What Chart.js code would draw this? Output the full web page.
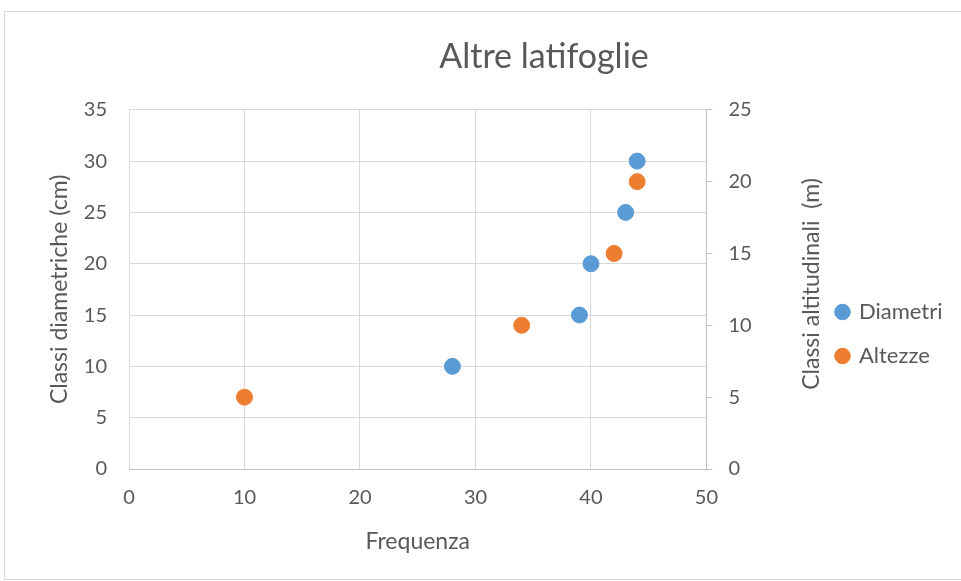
<!DOCTYPE html>
<html lang="it">
<head>
<meta charset="UTF-8">
<title>Altre latifoglie</title>
<script src="https://cdn.jsdelivr.net/npm/chart.js"></script>
<style>
  html, body { margin: 0; padding: 0; background: #fff; }
  #wrap { position: relative; width: 961px; height: 581px; overflow: hidden; }
  #frame { position: absolute; left: 4px; top: 11px; width: 1000px; height: 567px; border: 1px solid #d9d9d9; }
  canvas { position: absolute; left: 0; top: 0; }
</style>
</head>
<body>
<div id="wrap">
  <div id="frame"></div>
  <canvas id="chart" width="961" height="581"></canvas>
</div>
<script>
// Dati
const diametriFreq = [28, 39, 40, 43, 44];
const diametriClassi = [10, 15, 20, 25, 30];
const altezzeFreq = [10, 34, 42, 44];
const altezzeClassi = [5, 10, 15, 20];

const titolo = 'Altre latifoglie';
const xTitolo = 'Frequenza';
const yTitolo = 'Classi diametriche (cm)';
const y2Titolo = 'Classi altitudinali  (m)';

const grey = '#595959';
const gridCol = '#d9d9d9';
const axisCol = '#bfbfbf';
const font = 'Lato, "Open Sans", sans-serif';

const toPoints = (xs, ys) => xs.map((x, i) => ({ x: x, y: ys[i] }));

// titolo e legenda messi dove li mette Excel
const placeBoxes = {
  id: 'placeBoxes',
  afterLayout(chart) {
    const t = chart.titleBlock;
    const w = t.right - t.left;
    t.left = 544 - w / 2;
    t.right = 544 + w / 2;
    const lg = chart.legend;
    const lw = lg.right - lg.left, lh = lg.bottom - lg.top;
    lg.left = 815; lg.right = 815 + lw;
    lg.top = 279; lg.bottom = 279 + lh;
  },
  // titolo dell'asse destro letto dal basso verso l'alto
  afterDraw(chart) {
    const ctx = chart.ctx;
    ctx.save();
    ctx.translate(812, 284);
    ctx.rotate(-Math.PI / 2);
    ctx.fillStyle = grey;
    ctx.font = '23px ' + font;
    ctx.textAlign = 'center';
    ctx.textBaseline = 'middle';
    ctx.fillText(y2Titolo, 0, 0);
    ctx.restore();
  }
};

new Chart(document.getElementById('chart'), {
  type: 'scatter',
  data: {
    datasets: [
      {
        label: 'Diametri',
        data: toPoints(diametriFreq, diametriClassi),
        backgroundColor: '#5b9bd5',
        borderColor: '#5b9bd5',
        pointRadius: 8,
        pointHoverRadius: 8,
        yAxisID: 'y'
      },
      {
        label: 'Altezze',
        data: toPoints(altezzeFreq, altezzeClassi),
        backgroundColor: '#ed7d31',
        borderColor: '#ed7d31',
        pointRadius: 8,
        pointHoverRadius: 8,
        yAxisID: 'y2'
      }
    ]
  },
  options: {
    responsive: false,
    animation: false,
    layout: { padding: { left: 0, top: 0, bottom: 0, right: 8 } },
    plugins: {
      tooltip: { enabled: false },
      title: {
        display: true,
        text: titolo,
        color: grey,
        font: { family: font, size: 34, weight: 'normal' },
        padding: { top: 37, bottom: 32 }
      },
      legend: {
        position: 'right',
        align: 'start',
        maxWidth: 146,
        labels: {
          usePointStyle: true,
          pointStyle: 'circle',
          boxWidth: 11,
          boxHeight: 11,
          padding: 22,
          color: grey,
          font: { family: font, size: 22 }
        }
      }
    },
    scales: {
      x: {
        type: 'linear',
        min: 0,
        max: 50,
        ticks: { stepSize: 10, color: grey, padding: 17, font: { family: font, size: 20 } },
        grid: { color: gridCol, drawTicks: false },
        border: { color: axisCol },
        title: { display: true, text: xTitolo, color: grey, font: { family: font, size: 23 }, padding: { top: 0, bottom: 26 } },
        afterFit(s) { s.height = 581 - 469; }
      },
      y: {
        position: 'left',
        min: 0,
        max: 35,
        ticks: { stepSize: 5, color: grey, padding: 22, font: { family: font, size: 20 } },
        grid: { color: gridCol, drawTicks: false },
        border: { display: false },
        title: { display: true, text: yTitolo, color: grey, font: { family: font, size: 23 }, padding: { top: 46 } },
        afterFit(s) { s.width = 129; }
      },
      y2: {
        position: 'right',
        min: 0,
        max: 25,
        ticks: { stepSize: 5, color: grey, padding: 16, font: { family: font, size: 20 } },
        grid: { drawOnChartArea: false, color: axisCol, tickLength: 6 },
        border: { color: axisCol },
        title: { display: false },
        afterFit(s) { s.width = 961 - 706 - 146; }
      }
    }
  },
  plugins: [placeBoxes]
});
</script>
</body>
</html>
